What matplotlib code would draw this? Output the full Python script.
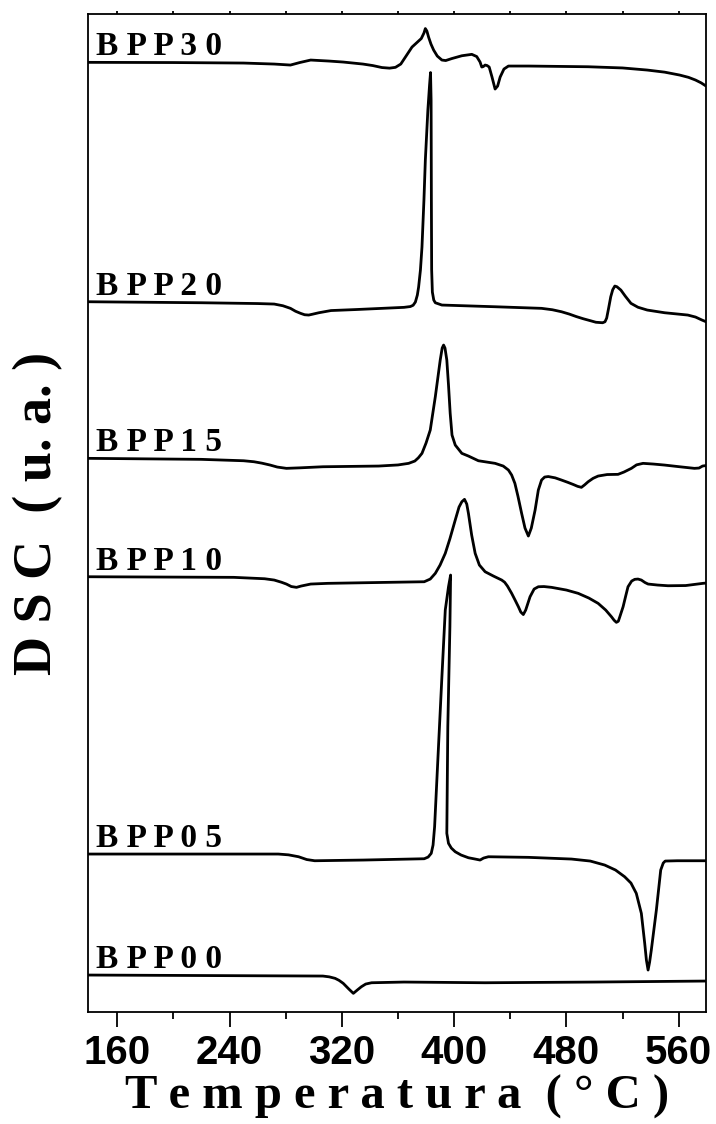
import matplotlib
matplotlib.use("Agg")
import matplotlib.pyplot as plt
from matplotlib.ticker import MultipleLocator

# DSC traces: temperature (°C) and signal (a.u.) relative to each trace's baseline
t_bpp30 = [139.5, 200, 250, 271.8, 283.4, 290, 297.8, 310.8, 321, 335, 342, 348.6, 354, 358.2,
           362, 365.3, 370, 373.5, 376.6, 378.5, 379.5, 380.6, 381.8, 383.5, 385.4, 388, 391.3,
           394, 398.4, 405.5, 412.6, 416.1, 418.5, 419.7, 420.8, 422.1, 423.5, 425, 427, 429.2,
           431, 432.8, 435.5, 438.7, 452.9, 495.5, 520, 537.6, 550, 560.7, 567, 572, 576,
           579.5]
s_bpp30 = [0, -0.2, -0.7, -1.7, -2.7, -0.2, 2.3, 1.3, 0.3, -1.7, -3.2, -5.2, -5.8, -5,
           -1.7, 5.3, 15.3, 19.8, 23.8, 29.3, 33.8, 31.3, 25.3, 18.3, 12.3, 6.3, 2.3,
           1.8, 3.8, 6.6, 8, 5.8, 0.3, -4.7, -4.2, -2.7, -3.2, -4.7, -14.7, -26.7,
           -23.7, -14.7, -6.7, -3.7, -3.7, -4.4, -5.6, -7.7, -9.8, -12.7, -15, -17.7, -20.5,
           -23.7]

t_bpp20 = [139.5, 220, 260, 271.8, 278, 283.4, 287, 290.6, 293.5, 296.4, 299, 303.6, 312.3,
           330, 364.3, 368.8, 370.8, 372.4, 373.8, 374.7, 376, 377.1, 378.5, 379.5, 381.3,
           382.5, 383.2, 383.6, 383.8, 384.0, 384.5, 385.5, 386.6, 391.3, 429.2, 462.3, 470,
           476.5, 482, 487, 492, 497.2, 501, 505.8, 507.5, 508.7, 510, 511.6, 513, 514.5,
           516, 518.8, 522, 526, 531, 537.6, 550, 566.5, 572, 576.6, 579.5]
s_bpp20 = [0, -1, -1.8, -2.3, -4, -6.6, -9.5, -11.6, -13, -13.3, -12.5, -11, -8.8,
           -7.8, -5.6, -4.8, -3.5, -0.3, 6.7, 14.7, 31.7, 54.7, 101.7, 141.7, 191.7,
           216.7, 229.2, 201.7, 101.7, 31.7, 9.7, 1.7, -1, -3.3, -5, -6.6, -8,
           -10, -12.3, -14.8, -17, -19, -20.5, -21, -20, -16.3, -7, 5, 12, 15.7,
           15, 11.7, 5.5, -1.6, -5.5, -8.3, -11, -13.3, -15.3, -18.3, -20]

t_bpp15 = [139.5, 219.8, 250, 257.4, 263, 268.9, 274, 280.5, 290, 306.5, 346.3, 360, 367.6,
           372, 374.5, 377.1, 380, 383, 386.6, 390.1, 391.5, 392.5, 393.5, 394.8, 396, 397.2,
           398.5, 400.8, 405.5, 410.2, 417.3, 429.2, 435, 438.7, 441, 443.3, 445.5, 448.1,
           450.5, 452.9, 455, 457.7, 460, 462.3, 464.5, 467.1, 472, 476.5, 481, 485, 488,
           490.7, 493, 495.5, 499, 502.6, 509, 516.8, 521, 526.3, 530, 534.6, 542, 549.9,
           560, 571.2, 574.5, 577, 579.5]
s_bpp15 = [0, -1, -2.4, -3.4, -4.8, -6.7, -8.7, -10, -9.5, -8.4, -7.7, -6.6, -5,
           -2.7, 0.5, 5, 15.3, 28.3, 61.6, 98.3, 110.3, 113.3, 110.3, 98.3, 73.3, 45,
           23.3, 13.3, 5, 2.3, -2.4, -5, -7.7, -11.7, -16.7, -25, -38, -55,
           -69.7, -77.7, -69.7, -51.7, -31.7, -21.7, -18.7, -18.2, -19.5, -21.7, -24, -26.2, -28,
           -29, -26.5, -23.4, -20, -17.7, -16.2, -16, -13.7, -10, -6.5, -5, -5.7, -6.7,
           -8.3, -10, -9.7, -7.7, -7.2]

t_bpp10 = [139.5, 243, 265, 271.8, 277, 280.5, 284, 287.7, 291, 297.8, 310, 335.4, 378.7,
           383, 386.6, 390, 393.7, 397, 400.8, 403.5, 405.5, 407.4, 409, 410.2, 412.5, 415,
           418, 422.1, 428, 433.9, 436, 438, 441, 443.5, 445.8, 447.5, 449.3, 451, 454.1, 457,
           460, 464, 469.4, 480, 488.4, 496, 502.6, 508, 512.1, 514, 515.6, 517, 518, 520.4,
           522.3, 523.9, 526.5, 528.7, 531, 533.4, 536, 538.2, 545, 552.4, 565, 577.3, 579.5]
s_bpp10 = [0, -0.6, -2, -3.3, -5.5, -7.3, -9.8, -10.6, -9.3, -7.3, -6.6, -6, -5,
           -2.3, 3.4, 11.7, 23.4, 38, 56.7, 69.7, 75, 77.4, 72.7, 63.4, 41.7, 23.4,
           11.7, 5, 0.7, -3.3, -5.5, -9.3, -16.6, -23.5, -30, -35.3, -37.8, -33.3, -20, -12.3,
           -10, -9.8, -10.6, -13.3, -16.6, -21.3, -26.6, -33.3, -40, -43.5, -45.6, -44.5, -40.3, -30,
           -19, -10, -4.3, -2.6, -2.3, -3.3, -5.8, -7.3, -8.3, -9, -8.8, -6.6, -6.3]

t_bpp05 = [139.5, 274.7, 282, 289.2, 295, 300.7, 335.4, 378.7, 381.5, 383.7, 385, 386.1,
           388.4, 391.3, 393.7, 396, 397.5, 397, 395.5, 394.8, 396, 398, 400.8, 405, 410.2,
           415, 418.5, 421, 424.4, 452.9, 483.6, 497, 507.3, 515, 521.5, 526, 529.8, 533.4,
           535.8, 537, 538.2, 539.3, 540.5, 544.1, 547.2, 549, 550.4, 559, 577.6, 579.5]
s_bpp05 = [0, 0, -0.8, -2.7, -5.5, -6.7, -6, -4.7, -3, 0.7, 9, 27.3,
           94, 177.3, 244, 267.3, 279, 227.3, 127.3, 20.7, 10.7, 6, 2.3, -1, -3.7,
           -5, -6, -4, -2.7, -3.3, -5, -7, -11, -16, -22.7, -29, -39.3, -59.3,
           -89.3, -106, -116, -108, -96, -56, -16, -9, -7, -6.7, -6.7, -6.7]

t_bpp00 = [139.5, 306.5, 311, 315.2, 318, 321, 325, 328.2, 331, 333.9, 337, 341.2, 364.3,
           422, 500, 579.5]
s_bpp00 = [0, -1, -1.8, -3.3, -5.3, -8.3, -14, -18.3, -15, -11.7, -9, -7.7, -7,
           -7.7, -7, -6]

samples = ["BPP30", "BPP20", "BPP15", "BPP10", "BPP05", "BPP00"]
offsets = [949.7, 710.3, 553.7, 435.3, 158, 37]
temps = [t_bpp30, t_bpp20, t_bpp15, t_bpp10, t_bpp05, t_bpp00]
signals = [s_bpp30, s_bpp20, s_bpp15, s_bpp10, s_bpp05, s_bpp00]

x_ticks = [160, 240, 320, 400, 480, 560]

fig = plt.figure(figsize=(7.16, 11.24), dpi=100)
ax = fig.add_axes([0.1236, 0.0996, 0.8625, 0.8879])

for name, off, t, s in zip(samples, offsets, temps, signals):
    ax.plot(t, [off + v for v in s], color="black", lw=2.0,
            solid_joinstyle="round", solid_capstyle="round")
    ax.text(145, off + 7, " ".join(name), fontsize=24, fontweight="bold",
            family="Liberation Serif", ha="left", va="baseline")

ax.set_xlim(139.5, 579.5)
ax.set_ylim(0, 998)
ax.set_xticks(x_ticks)
ax.xaxis.set_minor_locator(MultipleLocator(40))
ax.set_yticks([])
ax.tick_params(axis="x", which="both", direction="out", width=1.3, top=True)
ax.tick_params(axis="x", which="major", length=11, pad=5)
ax.tick_params(axis="x", which="minor", length=5)
# short ticks along the top edge
for tk in ax.xaxis.get_major_ticks() + ax.xaxis.get_minor_ticks():
    tk.tick2line.set_markersize(2)
for lab in ax.get_xticklabels():
    lab.set_family("Liberation Sans")
    lab.set_fontweight("bold")
    lab.set_fontsize(29)
for sp in ax.spines.values():
    sp.set_linewidth(1.3)

ax.set_xlabel("T e m p e r a t u r a  ( ° C )", fontsize=35, fontweight="bold",
              family="Liberation Serif", labelpad=2)
ax.set_ylabel("D S C  ( u. a. )", fontsize=39, fontweight="bold",
              family="Liberation Serif", labelpad=18)

fig.savefig("out.png", dpi=100)
